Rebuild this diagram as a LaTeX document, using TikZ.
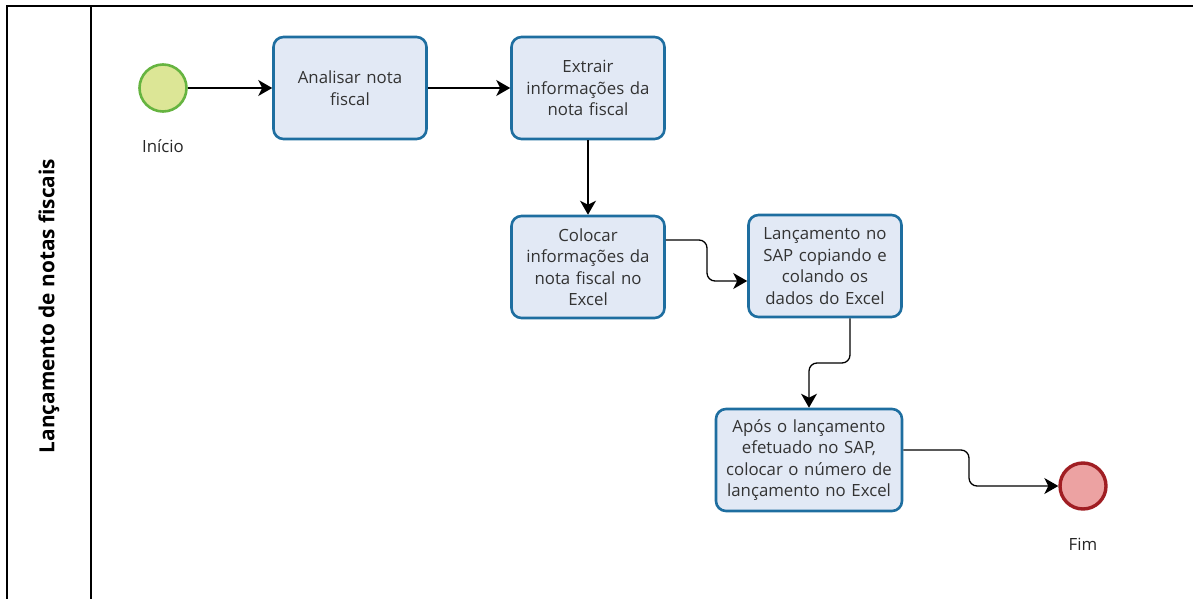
\documentclass[tikz,border=0pt]{standalone}
\usepackage{fontspec}
\setmainfont{Open Sans}
\usepackage{xcolor}
\definecolor{taskline}{RGB}{30,110,160}
\definecolor{taskfill}{RGB}{226,233,245}
\definecolor{startline}{RGB}{102,180,64}
\definecolor{startfill}{RGB}{220,230,150}
\definecolor{endline}{RGB}{160,30,35}
\definecolor{endfill}{RGB}{236,162,162}
\usetikzlibrary{positioning}
\usetikzlibrary{arrows.meta}

\begin{document}
\begin{tikzpicture}[x=1pt,y=-1pt,
  task/.style={draw=taskline,fill=taskfill,line width=2.6pt,rounded corners=10pt,align=center,
    font=\fontsize{16.8}{21.5}\selectfont,text=black!80,inner sep=2pt},
  flow/.style={line width=1.3pt,-{Stealth[length=14pt,width=16pt,inset=4pt]},rounded corners=8pt},
  lbl/.style={font=\fontsize{16.8}{20}\selectfont,text=black!85}]
\useasboundingbox (0,0) rectangle (1193,599);
% pool
\draw[line width=1.6pt] (1193,6) -- (7,6) -- (7,599);
\draw[line width=1.6pt] (91,6) -- (91,599);
\node[rotate=90,font=\fontsize{20.8}{24}\selectfont\bfseries] (pool) at (49,306) {Lançamento de notas fiscais};
% eventos
\node[circle,draw=startline,fill=startfill,line width=2.6pt,minimum size=47pt,inner sep=0pt] (inicio) at (163,88) {};
\node[lbl] (inicioL) at (163,146) {Início};
\node[circle,draw=endline,fill=endfill,line width=3.4pt,minimum size=46pt,inner sep=0pt] (fim) at (1083,486) {};
\node[lbl] (fimL) at (1083,544) {Fim};
% tarefas
\node[task,minimum width=153pt,minimum height=102pt,text width=148pt] (analisar) at (350,88) {Analisar nota\\fiscal};
\node[task,minimum width=153pt,minimum height=102pt,text width=148pt] (extrair) at (588,88) {Extrair\\informações da\\nota fiscal};
\node[task,minimum width=153pt,minimum height=102pt,text width=148pt] (colocar) at (588,267) {Colocar\\informações da\\nota fiscal no\\Excel};
\node[task,minimum width=153pt,minimum height=102pt,text width=148pt] (sap) at (825,266) {Lançamento no\\SAP copiando e\\colando os\\dados do Excel};
\node[task,minimum width=186pt,minimum height=102pt,text width=182pt] (apos) at (809,460) {Após o lançamento\\efetuado no SAP,\\colocar o número de\\lançamento no Excel};
% fluxos
\draw[flow] (inicio) -- (analisar);
\draw[flow] (analisar) -- (extrair);
\draw[flow] (extrair) -- (colocar);
\draw[flow] (colocar.east |- 0,240) -| (707,260) |- (sap.west |- 0,281);
\draw[flow] (sap.south -| 850,0) -- (850,363) -| (apos.north);
\draw[flow] (apos.east |- 0,450) -| (969,470) |- (fim.west);
\end{tikzpicture}
\end{document}
